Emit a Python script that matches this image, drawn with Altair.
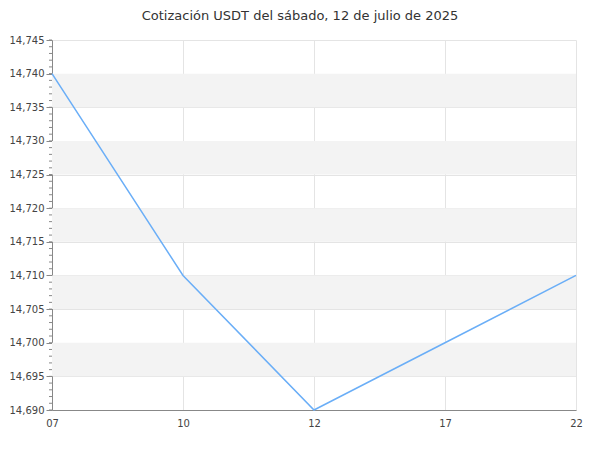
import altair as alt
import pandas as pd

hours = ["07", "10", "12", "17", "22"]
prices = [14.740, 14.710, 14.690, 14.700, 14.710]
major_ticks = [14.690, 14.695, 14.700, 14.705, 14.710, 14.715, 14.720, 14.725, 14.730, 14.735, 14.740, 14.745]
minor_ticks = [round(14.690 + i * 0.001, 3) for i in range(56)]
band_start = [14.695, 14.705, 14.715, 14.725, 14.735]
band_end = [14.700, 14.710, 14.720, 14.730, 14.740]

W, H = 524, 370
df = pd.DataFrame({"hora": hours, "precio": prices})
bands = pd.DataFrame({"y0": band_start, "y1": band_end})
minors = pd.DataFrame({"v": minor_ticks})

yscale = alt.Scale(domain=[14.690, 14.745], nice=False, zero=False)
label_expr = "replace(format(datum.value, '.3f'), '.', ',')"
yaxis = alt.Axis(title=None, values=major_ticks, labelExpr=label_expr,
                 labelOverlap=False, grid=True, gridColor="#e4e4e4",
                 domainColor="#888888", tickColor="#888888", tickSize=6,
                 labelPadding=2, labelColor="#444444", labelFont="DejaVu Sans",
                 labelFontSize=10)

band_layer = alt.Chart(bands).mark_rect(color="#f3f3f3").encode(
    y=alt.Y("y0:Q", scale=yscale, axis=yaxis),
    y2="y1:Q",
    x=alt.value(0),
    x2=alt.value(W),
)

line = alt.Chart(df).mark_line(color="#6aaef7", strokeWidth=1.5).encode(
    x=alt.X("hora:O", sort=hours, scale=alt.Scale(type="point", padding=0),
            axis=alt.Axis(title=None, labelAngle=0, ticks=False, grid=True,
                          gridColor="#e4e4e4", domainColor="#888888",
                          labelColor="#444444", labelFont="DejaVu Sans",
                          labelFontSize=10, labelPadding=8)),
    y=alt.Y("precio:Q", scale=yscale, axis=yaxis),
)

minor_layer = alt.Chart(minors).mark_rule(color="#888888", strokeWidth=1).encode(
    y=alt.Y("v:Q", scale=yscale, axis=yaxis),
    x=alt.value(-3),
    x2=alt.value(0),
)

chart = alt.layer(band_layer, line, minor_layer).properties(
    width=W,
    height=H,
    title=alt.TitleParams("Cotización USDT del sábado, 12 de julio de 2025",
                          font="DejaVu Sans", fontSize=13, fontWeight="normal",
                          color="#333333", dx=-14, offset=12),
    autosize=alt.AutoSizeParams(type="none"),
    padding={"left": 44, "top": 32, "right": 16, "bottom": 32},
).configure_view(stroke=None)

chart.save("out.html", embed_options={"renderer": "svg", "actions": False})
